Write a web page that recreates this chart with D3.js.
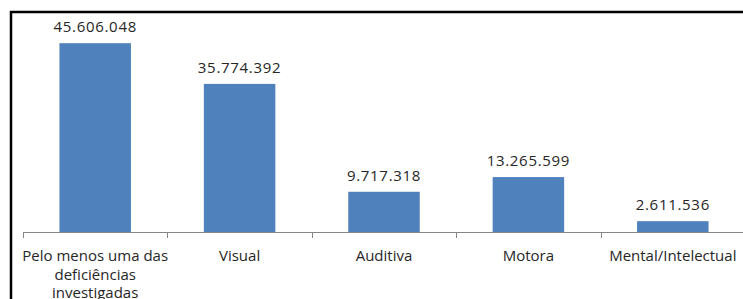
<!DOCTYPE html>
<html>
<head>
<meta charset="utf-8">
<script src="https://cdn.jsdelivr.net/npm/d3@7"></script>
<style>
  body { margin: 0; background: #fff; }
  svg { display: block; }
</style>
</head>
<body>
<script>
var categories = ['Pelo menos uma das|deficiências|investigadas', 'Visual', 'Auditiva', 'Motora', 'Mental/Intelectual'];
var values = [45606048, 35774392, 9717318, 13265599, 2611536];
var yMax = 50000000;

var width = 743, height = 299;
var plotLeft = 23, plotRight = 745, baseY = 232, topY = 25;

var fmt = function (v) {
  return d3.format(',')(v).replace(/,/g, '.');
};

var svg = d3.select('body').append('svg').attr('width', width).attr('height', height);

// frame (only top and left visible)
svg.append('path')
  .attr('d', 'M11,' + (height + 5) + 'V12H' + (width + 5))
  .attr('fill', 'none').attr('stroke', '#000').attr('stroke-width', 2.5);

var x = d3.scaleBand().domain(d3.range(categories.length)).range([plotLeft, plotRight]).paddingInner(0.505).paddingOuter(0.2525);
var y = d3.scaleLinear().domain([0, yMax]).range([baseY, topY]);

svg.selectAll('.bar').data(values).enter().append('rect')
  .attr('class', 'bar')
  .attr('x', function (d, i) { return x(i); })
  .attr('y', function (d) { return y(d); })
  .attr('width', x.bandwidth())
  .attr('height', function (d) { return baseY - y(d); })
  .attr('fill', '#4F81BD');

svg.selectAll('.vlabel').data(values).enter().append('text')
  .attr('class', 'vlabel')
  .attr('x', function (d, i) { return x(i) + x.bandwidth() / 2; })
  .attr('y', function (d) { return y(d) - 11; })
  .attr('text-anchor', 'middle')
  .attr('font-family', 'Open Sans, sans-serif')
  .attr('font-size', 15)
  .attr('letter-spacing', 0.7)
  .attr('fill', '#262626')
  .text(fmt);

// category axis
var step = x.step();
var axis = svg.append('g');
axis.append('line').attr('x1', plotLeft).attr('x2', plotRight).attr('y1', baseY + 0.5).attr('y2', baseY + 0.5)
  .attr('stroke', '#868686').attr('stroke-width', 1);
axis.selectAll('.tick').data(d3.range(categories.length + 1)).enter().append('line')
  .attr('x1', function (d) { return Math.round(plotLeft + d * step) + 0.5; })
  .attr('x2', function (d) { return Math.round(plotLeft + d * step) + 0.5; })
  .attr('y1', baseY).attr('y2', baseY + 6)
  .attr('stroke', '#868686');

var cl = svg.selectAll('.clabel').data(categories).enter().append('text')
  .attr('class', 'clabel')
  .attr('text-anchor', 'middle')
  .attr('font-family', 'Open Sans, sans-serif')
  .attr('font-size', 15)
  .attr('fill', '#262626');
cl.each(function (d, i) {
  var t = d3.select(this);
  d.split('|').forEach(function (line, k) {
    t.append('tspan')
      .attr('x', x(i) + x.bandwidth() / 2)
      .attr('y', 261 + k * 18.5)
      .text(line);
  });
});
</script>
</body>
</html>
